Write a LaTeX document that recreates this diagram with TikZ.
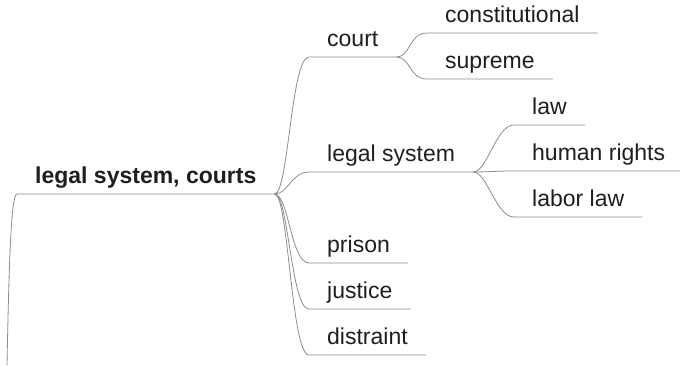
\documentclass[tikz,border=0pt]{standalone}
\usepackage{fontspec}
\setmainfont{Liberation Sans}
\definecolor{branchgray}{HTML}{8C8C8C}
\definecolor{labelink}{HTML}{1E1E1E}
\tikzset{
  topic/.style={anchor=south west, inner xsep=18pt, inner ysep=10.5pt,
    text height=0pt, text depth=0pt, text=labelink,
    font=\fontsize{23}{27}\selectfont},
  rootnode/.style={topic, font=\fontsize{23}{27}\selectfont\bfseries},
  branch/.style={draw=branchgray, line width=0.8pt},
  link/.style={branch,
    to path={.. controls +(14pt,0) and +(-18pt,0) .. (\tikztotarget)}},
}
\begin{document}
\begin{tikzpicture}[x=1pt,y=-1pt]
      \useasboundingbox (0,0) rectangle (680,365);

      %% central topic
      \node (root) at (17,194) [rootnode] {legal system, courts};
      \coordinate (offpage) at (7,365);
      \draw[branch] (offpage) .. controls +(2,-100) and +(-6,0) .. (root.south west)
        -- (root.south east);

      %% first level
      \node (court) at (309,57) [topic] {court};
      \node (legal) at (309,172) [topic] {legal system};
      \node (prison) at (309,263) [topic] {prison};
      \node (justice) at (309,309) [topic] {justice};
      \node (distraint) at (309,355) [topic] {distraint};

      %% court
      \node (constit) at (427,33) [topic] {constitutional};
      \node (supreme) at (427,79) [topic] {supreme};

      %% legal system
      \node (law) at (514,125) [topic] {law};
      \node (rights) at (514,171) [topic] {human rights};
      \node (labor) at (514,217) [topic] {labor law};

      %% branches from the centre
      \foreach \n in {court,legal,prison,justice,distraint}
        \draw[link] (root.south east) to (\n.south west) -- (\n.south east);

      %% sub-branches
      \foreach \n in {constit,supreme}
        \draw[link] (court.south east) to (\n.south west) -- (\n.south east);
      \foreach \n in {law,rights,labor}
        \draw[link] (legal.south east) to (\n.south west) -- (\n.south east);
    \end{tikzpicture}
\end{document}
